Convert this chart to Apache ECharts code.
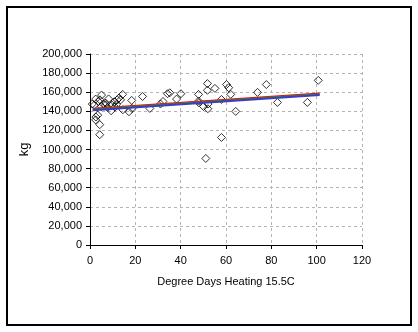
<!DOCTYPE html>
<html><head><meta charset="utf-8">
<script src="https://cdn.jsdelivr.net/npm/echarts@6/dist/echarts.min.js"></script>
<style>html,body{margin:0;padding:0;background:#fff}#c{width:418px;height:332px}</style>
</head><body><div id="c"></div>
<script>
var degreeDays = [1.0,1.9,2.5,2.6,2.5,3.4,3.7,4.3,4.3,4.4,5.1,5.1,5.9,6.8,6.9,8.2,7.8,9.3,9.7,10.7,11.0,11.6,12.0,12.8,13.5,14.4,14.5,17.2,18.4,18.5,23.2,26.4,31.1,32.2,34.2,35.2,38.2,40.1,47.9,47.9,48.0,50.1,51.1,51.8,51.8,52.1,52.0,55.1,58.0,58.0,60.2,61.2,62.1,64.3,73.9,77.8,82.7,95.9,100.7];
var kgValues = [147600,146500,152800,134000,131000,136000,150300,126000,115500,152000,157000,145000,147600,146500,148600,153000,144000,140600,146500,150000,144500,147000,152000,154000,152000,157700,141600,139500,151400,143000,155500,143000,147600,150300,158400,159400,152800,158400,157700,150700,149000,145000,90600,169000,162000,147600,142700,164000,152400,112600,168000,164700,157700,139900,159800,168000,149300,149300,172400];
var trendX = [1.2, 101.3];
var trendRed = [142800, 158600];
var trendGreen = [142000, 157800];
var trendBlue = [141200, 157000];
var xTicks = [0,20,40,60,80,100,120];

function pairs(xs, ys){ return xs.map(function(x,i){return [x, ys[i]];}); }
var font = 'Liberation Sans, Arial, sans-serif';
var chart = echarts.init(document.getElementById('c'));
chart.setOption({
  backgroundColor: '#fff',
  animation: false,
  graphic: [{type:'rect', shape:{x:7,y:7,width:404,height:318}, style:{fill:'none', stroke:'#000', lineWidth:2}, silent:true}],
  grid: {left:90, right:56, top:54, bottom:87},
  xAxis: {
    type:'value', min:xTicks[0], max:xTicks[xTicks.length-1], interval:20,
    name:'Degree Days Heating 15.5C', nameLocation:'middle', nameGap:31,
    nameTextStyle:{color:'#000', fontSize:11, fontFamily:font},
    axisLine:{show:true, onZero:false, lineStyle:{color:'#000', width:1}},
    axisTick:{show:true, length:4, lineStyle:{color:'#000'}},
    axisLabel:{color:'#000', fontSize:11, fontFamily:font, margin:10},
    splitLine:{show:true, lineStyle:{color:'#b4b4b4', type:[3,3], width:1}}
  },
  yAxis: {
    type:'value', min:0, max:200000, interval:20000,
    name:'kg', nameLocation:'middle', nameGap:47, nameRotate:90,
    nameTextStyle:{color:'#000', fontSize:13, fontFamily:font},
    axisLine:{show:true, lineStyle:{color:'#000', width:1}},
    axisTick:{show:true, length:4, lineStyle:{color:'#000'}},
    axisLabel:{color:'#000', fontSize:11, fontFamily:font, margin:8,
      formatter:function(v){return v.toLocaleString('en-US');}},
    splitLine:{show:true, lineStyle:{color:'#b4b4b4', type:[3,3], width:1}}
  },
  series: [
    {type:'scatter', data:pairs(degreeDays, kgValues), symbol:'diamond', symbolSize:8,
     itemStyle:{color:'rgba(0,0,0,0)', borderColor:'#000', borderWidth:1}, z:2},
    {type:'line', data:pairs(trendX, trendRed), showSymbol:false, lineStyle:{color:'#ff0000', width:2}, z:3},
    {type:'line', data:pairs(trendX, trendGreen), showSymbol:false, lineStyle:{color:'#2e8b2e', width:2}, z:4},
    {type:'line', data:pairs(trendX, trendBlue), showSymbol:false, lineStyle:{color:'#3c3cc8', width:2}, z:5}
  ]
});
</script></body></html>
